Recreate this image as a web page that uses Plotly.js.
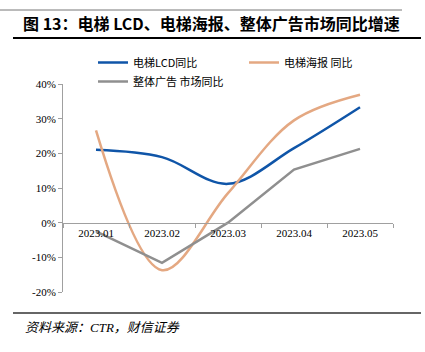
<!DOCTYPE html>
<html><head><meta charset="utf-8">
<script src="https://cdn.plot.ly/plotly-3.0.1.min.js"></script>
<style>html,body{margin:0;padding:0;background:#fff}#chart{width:425px;height:352px}</style>
</head><body><div id="chart"></div>
<script>
var categories = ['2023.01','2023.02','2023.03','2023.04','2023.05'];
var lcdYoY = [0.210, 0.189, 0.112, 0.215, 0.333];
var posterYoY = [0.266, -0.137, 0.085, 0.295, 0.369];
var adMarketYoY = [-0.025, -0.116, 0.0, 0.153, 0.213];
var seriesNames = ['电梯LCD同比', '电梯海报 同比', '整体广告 市场同比'];
var yTickVals = [-0.2, -0.1, 0, 0.1, 0.2, 0.3, 0.4];
var yTickText = ['-20%', '-10%', '0%', '10%', '20%', '30%', '40%'];
var titleText = '图 13：电梯 LCD、电梯海报、整体广告市场同比增速';
var sourceText = '资料来源：CTR，财信证券';

var serif = 'Liberation Serif, Times New Roman, Noto Sans CJK SC, serif';
var traces = [
  {x: categories, y: lcdYoY, name: seriesNames[0], type: 'scatter', mode: 'lines',
   line: {color: '#0F55A8', width: 2.5, shape: 'spline', smoothing: 1}},
  {x: categories, y: posterYoY, name: seriesNames[1], type: 'scatter', mode: 'lines',
   line: {color: '#E4A882', width: 2.5, shape: 'spline', smoothing: 1}},
  {x: categories, y: adMarketYoY, name: seriesNames[2], type: 'scatter', mode: 'lines',
   line: {color: '#8F8F8F', width: 2.5}}
];
var L = 63, R = 32, T = 84, B = 60, PW = 425 - L - R, PH = 352 - T - B;
function px(x){ return (x - L) / PW; }
function py(y){ return (352 - B - y) / PH; }
var layout = {
  width: 425, height: 352,
  margin: {l: L, r: R, t: T, b: B},
  paper_bgcolor: '#fff', plot_bgcolor: '#fff',
  font: {family: serif, size: 11, color: '#000'},
  title: {text: '<b>' + titleText + '</b>', x: 23/425, xanchor: 'left', xref: 'container',
          y: 1 - 24/352, yanchor: 'middle', yref: 'container',
          font: {family: 'Noto Sans CJK SC, Liberation Serif, serif', size: 16, color: '#000'}},
  showlegend: true,
  legend: {orientation: 'h', x: px(93), xanchor: 'left', y: py(48), yanchor: 'top',
           entrywidth: 106, entrywidthmode: 'pixels', tracegroupgap: 0,
           font: {family: 'Noto Sans CJK SC, Liberation Serif, serif', size: 11, color: '#000'},
           bgcolor: 'rgba(0,0,0,0)'},
  xaxis: {type: 'category', anchor: 'free', position: 1/3, showline: true, linecolor: '#A0A0A0',
          linewidth: 1, ticks: 'outside', tickson: 'boundaries', ticklen: 4, tickcolor: '#A0A0A0',
          showgrid: false, zeroline: false, tickfont: {family: serif, size: 11, color: '#000'},
          range: [-0.5, 4.5], fixedrange: true},
  yaxis: {range: [-0.2, 0.4], tickvals: yTickVals, ticktext: yTickText, showline: true,
          linecolor: '#A0A0A0', linewidth: 1, ticks: 'outside', ticklen: 4, tickcolor: '#A0A0A0',
          showgrid: false, zeroline: false, tickfont: {family: serif, size: 11, color: '#000'},
          fixedrange: true},
  shapes: [
    {type: 'line', xref: 'paper', yref: 'paper', x0: px(0), x1: px(402), y0: py(10), y1: py(10),
     line: {color: '#777', width: 1}},
    {type: 'line', xref: 'paper', yref: 'paper', x0: px(13), x1: px(421), y0: py(38), y1: py(38),
     line: {color: '#000', width: 1.8}},
    {type: 'line', xref: 'paper', yref: 'paper', x0: px(13), x1: px(421), y0: py(313), y1: py(313),
     line: {color: '#333', width: 1.5}}
  ],
  annotations: [
    {text: '<i>' + sourceText + '</i>', xref: 'paper', yref: 'paper', x: px(23), y: py(327),
     xanchor: 'left', yanchor: 'middle', showarrow: false,
     font: {family: 'Liberation Serif, Noto Sans CJK SC, serif', size: 13, color: '#000'}}
  ]
};
Plotly.newPlot('chart', traces, layout, {displayModeBar: false, staticPlot: true});
</script></body></html>
